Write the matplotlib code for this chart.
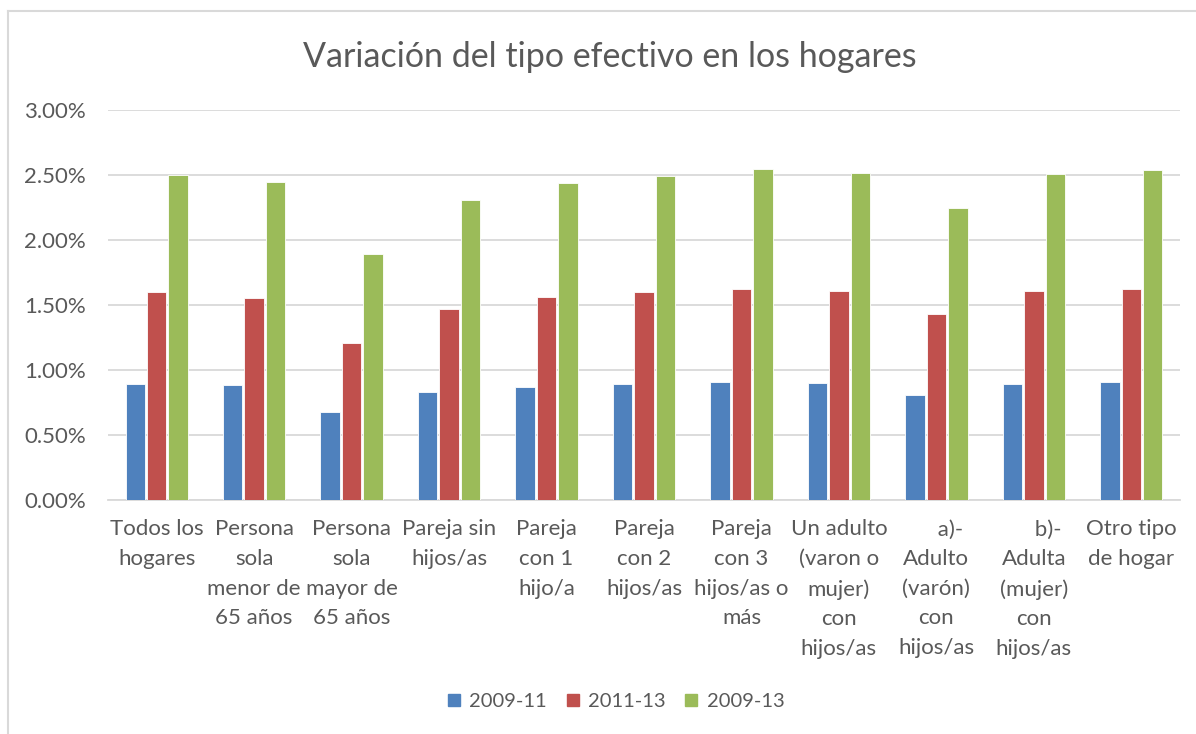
import matplotlib.pyplot as plt
import numpy as np
from matplotlib.lines import Line2D

plt.rcParams["font.family"] = ["Lato", "DejaVu Sans"]

categories = [
    "Todos los\nhogares",
    "Persona\nsola\nmenor de\n65 años",
    "Persona\nsola\nmayor de\n65 años",
    "Pareja sin\nhijos/as",
    "Pareja\ncon 1\nhijo/a",
    "Pareja\ncon 2\nhijos/as",
    "Pareja\ncon 3\nhijos/as o\nmás",
    "Un adulto\n(varon o\nmujer)\ncon\nhijos/as",
    "     a)-\nAdulto\n(varón)\ncon\nhijos/as",
    "     b)-\nAdulta\n(mujer)\ncon\nhijos/as",
    "Otro tipo\nde hogar",
]
series_names = ["2009-11", "2011-13", "2009-13"]
v_2009_11 = [0.896, 0.886, 0.678, 0.827, 0.873, 0.891, 0.909, 0.902, 0.809, 0.894, 0.909]
v_2011_13 = [1.598, 1.551, 1.210, 1.472, 1.562, 1.598, 1.626, 1.611, 1.428, 1.611, 1.621]
v_2009_13 = [2.499, 2.445, 1.896, 2.307, 2.440, 2.492, 2.543, 2.515, 2.243, 2.510, 2.535]
yticks = [0.0, 0.5, 1.0, 1.5, 2.0, 2.5, 3.0]

colors = ["#4F81BD", "#C0504D", "#9BBB59"]
text_color = "#595959"

fig = plt.figure(figsize=(11.96, 7.34), dpi=100)
ax = fig.add_axes([108 / 1196, 1 - 500 / 734, (1180 - 108) / 1196, 390 / 734])

x = np.arange(len(categories))
offsets = [-0.22, 0.0, 0.22]
for vals, off, col, name in zip([v_2009_11, v_2011_13, v_2009_13], offsets, colors, series_names):
    ax.bar(x + off, vals, width=0.2, color=col, edgecolor="white", linewidth=0.6, label=name, zorder=3)

ax.set_xlim(-0.5, len(categories) - 0.5)
ax.set_ylim(0, 3.0)
ax.set_yticks(yticks)
ax.set_yticklabels([f"{t:.2f}%" for t in yticks])
ax.set_xticks(x)
ax.set_xticklabels(categories, linespacing=1.6, va="top")
ax.grid(axis="y", color="#D9D9D9", linewidth=1.3, zorder=0)
for s in ["top", "right", "left"]:
    ax.spines[s].set_visible(False)
ax.spines["bottom"].set_color("#D9D9D9")
ax.spines["bottom"].set_linewidth(1.3)
ax.tick_params(axis="both", length=0, labelsize=16, colors=text_color)
ax.tick_params(axis="x", pad=14)
ax.tick_params(axis="y", pad=16)

fig.text(0.51, 1 - 57 / 734, "Variación del tipo efectivo en los hogares",
         ha="center", va="center", fontsize=24.5, color=text_color)

handles = [Line2D([], [], marker="s", linestyle="", markersize=8, color=c) for c in colors]
fig.legend(handles, series_names, loc="center", bbox_to_anchor=(0.515, 1 - 701 / 734),
           ncol=3, frameon=False, fontsize=14.5, labelcolor=text_color,
           handlelength=0.6, handletextpad=0.45, columnspacing=1.0)

# chart border (top and left edges visible)
fig.add_artist(Line2D([8 / 1196, 8 / 1196], [0, 1 - 11 / 734], transform=fig.transFigure,
                      color="#D9D9D9", linewidth=1.5))
fig.add_artist(Line2D([8 / 1196, 1], [1 - 11 / 734, 1 - 11 / 734], transform=fig.transFigure,
                      color="#D9D9D9", linewidth=1.5))

fig.savefig("out.png", dpi=100)
